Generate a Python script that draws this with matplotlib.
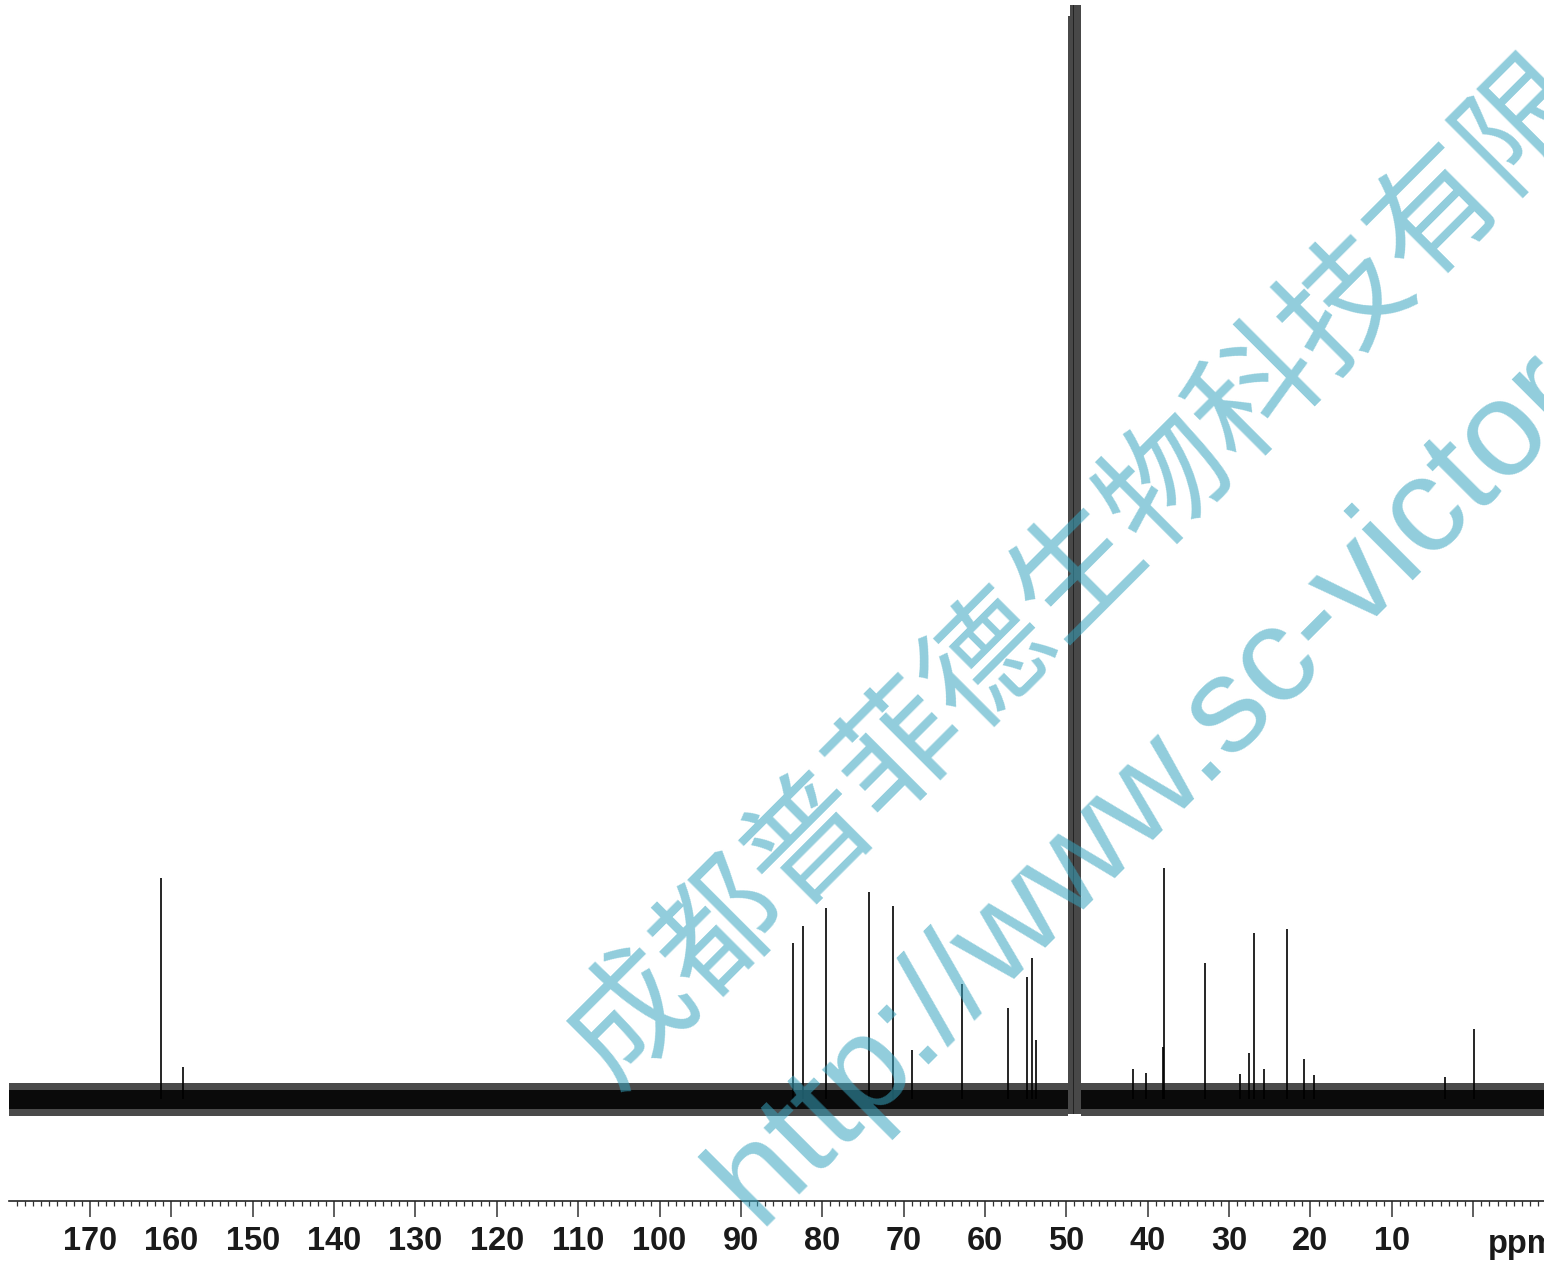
import matplotlib
matplotlib.use('Agg')
import matplotlib.pyplot as plt
from matplotlib.ticker import FixedLocator, MultipleLocator

# ---- data ----
peak_ppm = [161.27, 158.57, 83.63, 82.33, 79.58, 74.25, 71.30, 69.00, 62.82,
            57.13, 54.80, 54.26, 53.73, 41.80, 40.20, 38.10, 38.03, 33.00,
            28.70, 27.50, 26.94, 25.70, 22.90, 20.80, 19.50, 3.40, -0.07]
peak_height = [221, 32, 156, 173, 191, 207, 193, 49, 115,
               91, 122, 141, 59, 30, 26, 52, 231, 136,
               25, 46, 166, 30, 170, 40, 24, 22, 70]
solvent_ppm = [49.64, 49.43, 49.21, 49.00, 48.79, 48.57, 48.36]
solvent_height = [1083, 3000, 6000, 7000, 6000, 3000, 2000]
noise_segments = [(179.96, 49.75), (48.25, -8.71)]
noise_outer = (-17, 16)
noise_inner = (-10, 9)
major_ticks = [170, 160, 150, 140, 130, 120, 110, 100, 90, 80, 70, 60, 50, 40, 30, 20, 10, 0]
major_labels = ['170', '160', '150', '140', '130', '120', '110', '100', '90', '80',
                '70', '60', '50', '40', '30', '20', '10', '']
x_unit = 'ppm'
wm_cn = '成都普菲德生物科技有限公司'
wm_url = 'http://www.sc-victor.com'

W, H = 1544, 1263
fig = plt.figure(figsize=(W / 100, H / 100), dpi=100)
fig.patch.set_facecolor('white')

ax_left, ax_right = 9 / W, 1.0
ax_bottom, ax_top = 1 - 1201 / H, 1 - 5 / H
ax = fig.add_axes([ax_left, ax_bottom, ax_right - ax_left, ax_top - ax_bottom])
ax.set_xlim(179.96, -8.71)
ax.set_ylim(-102, 1094)

for a, b in noise_segments:
    ax.fill_between([a, b], noise_outer[0], noise_outer[1], color='#4a4a4a', lw=0)
    ax.fill_between([a, b], noise_inner[0], noise_inner[1], color='#0a0a0a', lw=0)

ax.vlines(peak_ppm, 0, peak_height, color='black', lw=1.2)
ax.vlines(solvent_ppm, -15, solvent_height, color='#1a1a1a', lw=1.15)

for s in ['top', 'left', 'right']:
    ax.spines[s].set_visible(False)
ax.spines['bottom'].set_linewidth(1.2)
ax.spines['bottom'].set_color('#222222')
ax.yaxis.set_visible(False)

ax.xaxis.set_major_locator(FixedLocator(major_ticks))
ax.set_xticklabels(major_labels)
ax.xaxis.set_minor_locator(MultipleLocator(1))
ax.tick_params(axis='x', which='major', length=11.5, width=1.1, color='#333333',
               pad=6.5, labelsize=23.5, labelcolor='#1a1a1a')
ax.tick_params(axis='x', which='minor', length=3.3, width=0.9, color='#333333')
for lab in ax.get_xticklabels():
    lab.set_fontfamily('Liberation Sans')
    lab.set_fontweight('bold')

fig.text(1488 / W, 1 - 1253 / H, x_unit, fontsize=23.5, fontweight='bold',
         family='Liberation Sans', color='#1a1a1a', ha='left', va='baseline')

wm_color = '#37A4BF'
fig.text(614 / W, 1 - 1089 / H, wm_cn, fontsize=91, color=wm_color, alpha=0.55,
         family=['Noto Sans CJK SC', 'DejaVu Sans'], fontweight='medium', rotation=45,
         rotation_mode='anchor', ha='left', va='baseline', zorder=10)
fig.text(758 / W, 1 - 1226 / H, wm_url, fontsize=98, color=wm_color, alpha=0.55,
         family='Liberation Sans', rotation=45,
         rotation_mode='anchor', ha='left', va='baseline', zorder=10)

fig.savefig('out.png', dpi=100, facecolor='white')
